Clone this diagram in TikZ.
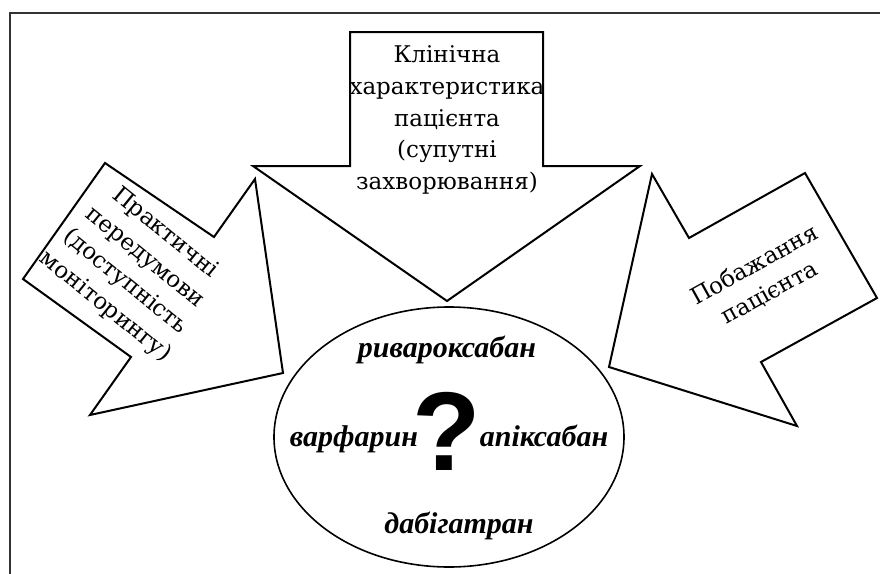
\documentclass[tikz,border=0pt]{standalone}
\usepackage{fontspec}
\setmainfont{DejaVu Serif}
\newfontfamily\drugfont{Liberation Serif}
\newfontfamily\markfont{Liberation Sans}
\usepackage{tikz}
\usetikzlibrary{shapes.geometric}
\definecolor{FrameGray}{RGB}{50,50,50}

\begin{document}
\begin{tikzpicture}[x=0.5pt, y=-0.5pt,
	arr/.style={draw=black, line width=1pt, fill=white, line join=miter},
	lbl/.style={align=center, inner sep=0pt, font=\fontsize{11.5}{15.8}\selectfont},
	drug/.style={anchor=base, inner sep=0pt, font=\drugfont\bfseries\itshape\fontsize{15}{18}\selectfont}]

	\useasboundingbox (0,0) rectangle (880,574);
	\draw[FrameGray, line width=1.2pt] (10,574) -- (10,13) -- (880,13);

	% ---------- clinical characteristics ----------
	\draw[arr] (350,32) -- (543,32) -- (543,166) -- (640,166) -- (447,301)
		-- (253,166) -- (350,166) -- cycle;
	\node[lbl] (clin) at (447,120) {Клінічна\\характеристика\\пацієнта\\(супутні\\захворювання)};

	% ---------- practical prerequisites ----------
	\draw[arr] (105,163) -- (214,237) -- (255,179) -- (283,373) -- (90,415)
		-- (131,357) -- (23,279) -- cycle;
	\node[lbl, rotate=-39] (prac) at (135,270) {Практичні\\передумови\\(доступність\\моніторингу)};

	% ---------- patient preferences ----------
	\draw[arr] (652,174) -- (689,238) -- (805,173) -- (877,298) -- (761,362)
		-- (797,426) -- (609,367) -- cycle;
	\node[lbl, rotate=29] (pref) at (762,279) {Побажання\\пацієнта};

	% ---------- choice of anticoagulant ----------
	\node[ellipse, draw=black, line width=0.8pt, minimum width=175pt, minimum height=130pt,
		inner sep=0pt] (choice) at (449,437) {};
	\node[anchor=base, inner sep=0pt, font=\markfont\bfseries\fontsize{56}{56}\selectfont] (qm) at (447,470) {?};
	\node[drug] (riva) at (447,357) {ривароксабан};
	\node[drug] (warf) at (354,446) {варфарин};
	\node[drug] (apix) at (544,446) {апіксабан};
	\node[drug] (dabi) at (459,533) {дабігатран};
\end{tikzpicture}
\end{document}
